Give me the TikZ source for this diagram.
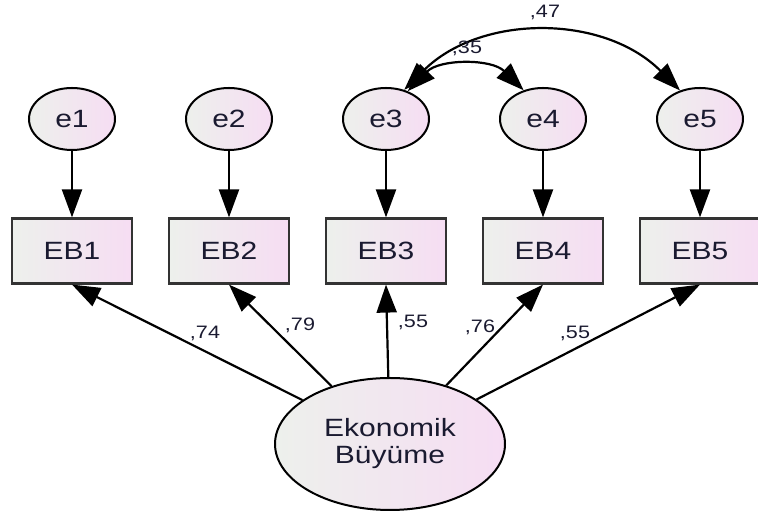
\documentclass[tikz,border=0pt]{standalone}
\usepackage{fontspec}
\setmainfont{Liberation Sans}
\usetikzlibrary{arrows.meta,shapes}
\definecolor{clrone}{HTML}{EDF0EC}
\definecolor{clrtwo}{HTML}{F6DDF3}
\definecolor{clrtxt}{HTML}{1A1A30}
\newcommand{\wide}[1]{\scalebox{1.2}[1]{#1}}

\begin{document}
\begin{tikzpicture}[x=1pt,y=1pt,
    err/.style={ellipse, draw, line width=2pt, minimum width=86pt, minimum height=62pt,
        inner sep=0pt, left color=clrone, right color=clrtwo, text=clrtxt,
        font=\fontsize{25}{27}\selectfont},
    obs/.style={rectangle, draw=black!80, line width=2.2pt, minimum width=120pt, minimum height=65pt,
        inner sep=0pt, left color=clrone, right color=clrtwo, text=clrtxt,
        font=\fontsize{25}{27}\selectfont},
    latent/.style={ellipse, draw, line width=2pt, minimum width=230pt, minimum height=132pt,
        inner sep=0pt, left color=clrone, right color=clrtwo, text=clrtxt, align=center,
        font=\fontsize{25}{29}\selectfont},
    lbl/.style={text=clrtxt, inner sep=0pt, font=\fontsize{18}{20}\selectfont},
    arr/.style={line width=2.2pt, -{Triangle[length=28pt,width=20pt]}},
    cov/.style={line width=2.2pt, {Triangle[length=28pt,width=20pt]}-{Triangle[length=28pt,width=20pt]}}]

    \useasboundingbox (0,0) rectangle (758,513);

    % error terms
    \node[err] (e1) at (72,394) {\wide{e1}};
    \node[err] (e2) at (229,394) {\wide{e2}};
    \node[err] (e3) at (386,394) {\wide{e3}};
    \node[err] (e4) at (543,394) {\wide{e4}};
    \node[err] (e5) at (700,394) {\wide{e5}};

    % observed items
    \node[obs] (EB1) at (72,262) {\wide{EB1}};
    \node[obs] (EB2) at (229,262) {\wide{EB2}};
    \node[obs] (EB3) at (386,262) {\wide{EB3}};
    \node[obs] (EB4) at (543,262) {\wide{EB4}};
    \node[obs] (EB5) at (700,262) {\wide{EB5}};

    % latent factor
    \node[latent] (eb) at (390,69) {\wide{Ekonomik}\\[-2pt]\wide{Büyüme}};

    \draw[arr] (e1) -- (EB1);
    \draw[arr] (e2) -- (EB2);
    \draw[arr] (e3) -- (EB3);
    \draw[arr] (e4) -- (EB4);
    \draw[arr] (e5) -- (EB5);

    \draw[arr] (eb) -- (EB1.south);
    \draw[arr] (eb) -- (EB2.south);
    \draw[arr] (eb) -- (EB3.south);
    \draw[arr] (eb) -- (EB4.south);
    \draw[arr] (eb) -- (EB5.south);

    \draw[cov] (e3.52) to[bend left=45] (e4.124);
    \draw[cov] (e3.58) to[bend left=45] (e5.125);

    \node[lbl] (l1) at (205,180) {\wide{,74}};
    \node[lbl] (l2) at (300,188) {\wide{,79}};
    \node[lbl] (l3) at (413,191) {\wide{,55}};
    \node[lbl] (l4) at (480,186) {\wide{,76}};
    \node[lbl] (l5) at (575,180) {\wide{,55}};
    \node[lbl] (l6) at (545,501) {\wide{,47}};
    \node[lbl] (l7) at (467,465) {\wide{,35}};

\end{tikzpicture}
\end{document}
